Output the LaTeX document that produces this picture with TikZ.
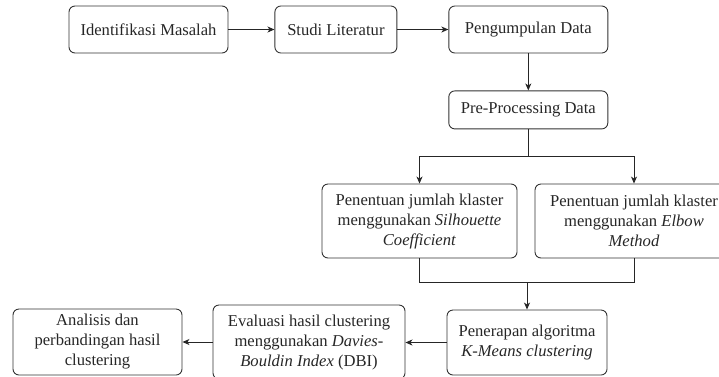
\documentclass[tikz,border=0pt]{standalone}
\usepackage{fontspec}
\setmainfont{Liberation Serif}
\usetikzlibrary{positioning,arrows.meta}

\begin{document}
\begin{tikzpicture}[
        x=1pt, y=-1pt,
        every node/.style={ font=\fontsize{16.6}{20}\selectfont, text=black!85, align=center, inner sep=0pt },
        stepbox/.style={ draw=black!80, line width=0.9pt, rounded corners=6pt },
        flow/.style={ draw=black!85, line width=0.9pt, -{Stealth[length=7pt,width=6pt,inset=2pt]} },
        link/.style={ draw=black!85, line width=0.9pt },
        node distance=46pt
    ]
    \useasboundingbox (0,0) rectangle (719,376);

    % top row
    \node[stepbox, minimum width=159pt, minimum height=47pt] (im) at (148.5,29.5) {Identifikasi Masalah};
    \node[stepbox, minimum width=122pt, minimum height=47pt, right=46pt of im] (sl) {Studi Literatur};
    \node[stepbox, minimum width=159pt, minimum height=47pt, right=51pt of sl] (pd) {Pengumpulan Data};
    \node[stepbox, minimum width=159pt, minimum height=38pt, below=37pt of pd] (pp) {Pre-Processing Data};

    % cluster count
    \node[stepbox, minimum width=195pt, minimum height=74pt] (sc) at (419.5,221) {Penentuan jumlah klaster\\menggunakan \textit{Silhouette}\\\textit{Coefficient}};
    \node[stepbox, minimum width=198pt, minimum height=74pt] (em) at (634,221) {Penentuan jumlah klaster\\menggunakan \textit{Elbow}\\\textit{Method}};

    % bottom row
    \node[stepbox, minimum width=160pt, minimum height=65pt] (km) at (527,342.5) {Penerapan algoritma\\\textit{K-Means clustering}};
    \node[stepbox, minimum width=192pt, minimum height=74pt] (ev) at (309,342) {Evaluasi hasil clustering\\menggunakan \textit{Davies-}\\\textit{Bouldin Index} (DBI)};
    \node[stepbox, minimum width=169pt, minimum height=66pt] (an) at (97.5,342) {Analisis dan\\perbandingan hasil\\clustering};

    \path (pp.south) ++(0,27) coordinate (split);
    \path (km.north) ++(0,-27) coordinate (merge);

    \draw[flow] (im) -- (sl);
    \draw[flow] (sl) -- (pd);
    \draw[flow] (pd) -- (pp);
    \draw[link] (pp.south) -- (split);
    \draw[flow] (split) -| (sc.north);
    \draw[flow] (split) -| (em.north);
    \draw[link] (sc.south) |- (merge) -| (em.south);
    \draw[flow] (merge) -- (km.north);
    \draw[flow] (km.west) -- (km.west -| ev.east);
    \draw[flow] (ev.west) -- (ev.west -| an.east);
\end{tikzpicture}
\end{document}
